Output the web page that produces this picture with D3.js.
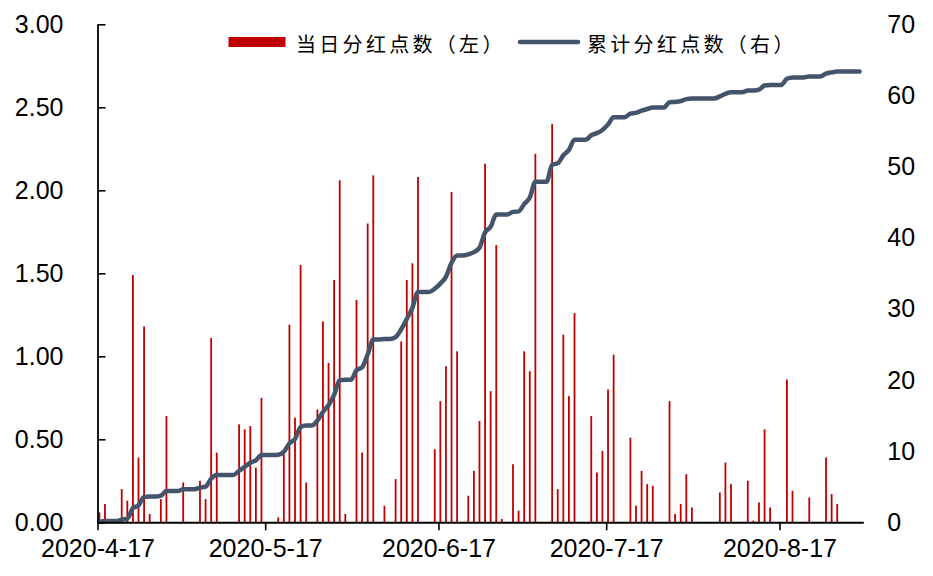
<!DOCTYPE html>
<html>
<head>
<meta charset="utf-8">
<script src="https://cdn.jsdelivr.net/npm/d3@7"></script>
<style>
  html, body { margin: 0; padding: 0; background: #ffffff; }
  svg { display: block; }
</style>
</head>
<body>
<svg id="chart" width="933" height="576"></svg>
<script>
// ---------------- DATA ----------------
const barDates = [
  "2020-04-17","2020-04-18","2020-04-21","2020-04-22","2020-04-23","2020-04-24","2020-04-25","2020-04-26",
  "2020-04-28","2020-04-29","2020-05-02","2020-05-05","2020-05-06","2020-05-07","2020-05-08",
  "2020-05-12","2020-05-13","2020-05-14","2020-05-15","2020-05-16",
  "2020-05-19","2020-05-20","2020-05-21","2020-05-22","2020-05-23","2020-05-24",
  "2020-05-26","2020-05-27","2020-05-28","2020-05-29","2020-05-30","2020-05-31",
  "2020-06-02","2020-06-03","2020-06-04","2020-06-05","2020-06-07",
  "2020-06-09","2020-06-10","2020-06-11","2020-06-12","2020-06-13",
  "2020-06-16","2020-06-17","2020-06-18","2020-06-19","2020-06-20",
  "2020-06-22","2020-06-23","2020-06-24","2020-06-25","2020-06-26","2020-06-27","2020-06-28",
  "2020-06-30","2020-07-01","2020-07-02","2020-07-03","2020-07-04",
  "2020-07-07","2020-07-08","2020-07-09","2020-07-10","2020-07-11",
  "2020-07-14","2020-07-15","2020-07-16","2020-07-17","2020-07-18",
  "2020-07-21","2020-07-22","2020-07-23","2020-07-24","2020-07-25",
  "2020-07-28","2020-07-29","2020-07-30","2020-07-31","2020-08-01",
  "2020-08-06","2020-08-07","2020-08-08",
  "2020-08-11","2020-08-12","2020-08-13","2020-08-14","2020-08-15",
  "2020-08-18","2020-08-19","2020-08-22","2020-08-25","2020-08-26","2020-08-27"
];
const barValues = [
  0.06,0.11,0.20,0.13,1.49,0.39,1.18,0.05,
  0.14,0.64,0.24,0.25,0.14,1.11,0.42,
  0.59,0.56,0.58,0.33,0.75,
  0.03,0.41,1.19,0.63,1.55,0.24,
  0.68,1.21,0.96,1.46,2.06,0.05,
  1.34,0.42,1.80,2.09,0.10,
  0.26,1.09,1.46,1.56,2.08,
  0.44,0.73,0.94,1.99,1.03,
  0.16,0.31,0.61,2.16,0.79,1.67,0.02,
  0.35,0.07,1.03,0.91,2.22,
  2.40,0.20,1.13,0.76,1.26,
  0.64,0.30,0.43,0.80,1.01,
  0.51,0.10,0.31,0.23,0.22,
  0.73,0.05,0.11,0.29,0.09,
  0.18,0.36,0.23,
  0.25,0.01,0.12,0.56,0.09,
  0.86,0.19,0.15,0.39,0.17,0.11
];
// cumulative line, one value per calendar day starting 2020-04-17
const lineStart = "2020-04-17";
const lineValues = [
  0.06,0.17,0.17,0.17,0.37,0.50,1.99,2.38,3.56,3.61,
  3.61,3.75,4.39,4.39,4.39,4.63,4.63,4.63,4.88,5.02,
  6.13,6.65,6.65,6.65,6.65,7.24,7.80,8.38,8.71,9.46,
  9.46,9.46,9.49,9.90,11.09,11.72,13.37,13.61,13.61,14.29,
  15.50,16.46,17.92,19.98,20.03,20.03,21.37,21.79,23.59,25.68,
  25.68,25.78,25.78,26.04,27.13,28.59,30.15,32.38,32.38,32.38,
  32.82,33.55,34.49,36.48,37.51,37.51,37.67,37.98,38.59,40.75,
  41.54,43.26,43.28,43.28,43.63,43.70,44.73,45.64,47.86,47.86,
  47.86,50.26,50.46,51.59,52.35,53.76,53.76,53.76,54.40,54.70,
  55.13,55.93,56.94,56.94,56.94,57.45,57.55,57.86,58.09,58.31,
  58.31,58.31,59.04,59.09,59.20,59.49,59.58,59.58,59.58,59.58,
  59.58,59.86,60.22,60.45,60.45,60.45,60.70,60.71,60.83,61.39,
  61.48,61.48,61.48,62.34,62.53,62.53,62.53,62.68,62.68,62.68,
  63.07,63.24,63.35,63.35,63.35,63.35,63.35
];
const xTickDates = ["2020-04-17","2020-05-17","2020-06-17","2020-07-17","2020-08-17"];
const xDomain = ["2020-04-17","2020-09-01"];
const leftTicks = [0, 0.5, 1.0, 1.5, 2.0, 2.5, 3.0];
const rightTicks = [0, 10, 20, 30, 40, 50, 60, 70];
const legendLabels = ["当日分红点数（左）", "累计分红点数（右）"];

// ---------------- LAYOUT ----------------
const parse = d3.timeParse("%Y-%m-%d");
const plot = { left: 97.5, right: 863.3, top: 24.3, bottom: 522.3 };
const barColor = "#C00000";
const lineColor = "#44546A";
const tickFont = "'Liberation Sans', Arial, Helvetica, sans-serif";
const cjkFont = "'Noto Sans CJK SC', 'Noto Sans', sans-serif";

const svg = d3.select("#chart");
svg.append("rect").attr("width", 933).attr("height", 576).attr("fill", "#fff");

const x = d3.scaleTime().domain(xDomain.map(parse)).range([plot.left, plot.right]);
const yL = d3.scaleLinear().domain([0, 3]).range([plot.bottom, plot.top]);
const yR = d3.scaleLinear().domain([0, 70]).range([plot.bottom, plot.top]);
const slot = d3.timeHour.offset; // bars/points sit slightly right of the date tick
const pos = d => x(slot(d, 8));

const bars = barDates.map((s, i) => ({ date: parse(s), value: barValues[i] }));
const start = parse(lineStart);
const linePts = lineValues.map((v, i) => ({ date: d3.timeDay.offset(start, i), value: v }));

// bars
svg.append("g").selectAll("rect").data(bars).join("rect")
  .attr("x", d => pos(d.date) - 0.9)
  .attr("width", 1.8)
  .attr("y", d => yL(d.value))
  .attr("height", d => yL(0) - yL(d.value))
  .attr("fill", barColor);

// line
const line = d3.line()
  .x(d => pos(d.date))
  .y(d => yR(d.value))
  .curve(d3.curveMonotoneX);
svg.append("path").datum(linePts)
  .attr("d", line)
  .attr("fill", "none")
  .attr("stroke", lineColor)
  .attr("stroke-width", 4.5)
  .attr("stroke-linejoin", "round")
  .attr("stroke-linecap", "round");

// axes
const fmtDate = d3.timeFormat("%Y-%-m-%-d");
const gx = svg.append("g").attr("transform", `translate(0,${plot.bottom})`)
  .call(d3.axisBottom(x).tickValues(xTickDates.map(parse)).tickFormat(fmtDate)
    .tickSizeInner(8).tickSizeOuter(0).tickPadding(9));
gx.select(".domain").attr("stroke", "#000").attr("stroke-width", 2);
gx.selectAll(".tick line").attr("stroke", "#000").attr("stroke-width", 1.6);
gx.selectAll(".tick text").attr("font-family", tickFont).attr("font-size", 25).attr("fill", "#000");

const gl = svg.append("g").attr("transform", `translate(${plot.left},0)`)
  .call(d3.axisLeft(yL).tickValues(leftTicks).tickFormat(d3.format(".2f"))
    .tickSizeInner(-8).tickSizeOuter(0).tickPadding(34));
gl.select(".domain").attr("stroke", "#000").attr("stroke-width", 1.8);
gl.selectAll(".tick line").attr("stroke", "#000").attr("stroke-width", 1.6);
gl.selectAll(".tick text").attr("font-family", tickFont).attr("font-size", 25).attr("fill", "#000");

const gr = svg.append("g").attr("transform", `translate(${plot.right},0)`)
  .call(d3.axisRight(yR).tickValues(rightTicks).tickFormat(d3.format("d"))
    .tickSize(0).tickPadding(24));
gr.select(".domain").remove();
gr.selectAll(".tick text").attr("font-family", tickFont).attr("font-size", 25).attr("fill", "#000");

// legend
const lg = svg.append("g");
lg.append("rect").attr("x", 228.5).attr("y", 37).attr("width", 57).attr("height", 10).attr("fill", barColor);
lg.append("text").attr("x", 296).attr("y", 43).attr("dominant-baseline", "central")
  .attr("font-family", cjkFont).attr("font-size", 20).attr("letter-spacing", 3.3)
  .attr("fill", "#000").text(legendLabels[0]);
lg.append("line").attr("x1", 520).attr("x2", 578).attr("y1", 42).attr("y2", 42)
  .attr("stroke", lineColor).attr("stroke-width", 4.5).attr("stroke-linecap", "round");
lg.append("text").attr("x", 587).attr("y", 43).attr("dominant-baseline", "central")
  .attr("font-family", cjkFont).attr("font-size", 20).attr("letter-spacing", 3.3)
  .attr("fill", "#000").text(legendLabels[1]);
</script>
</body>
</html>
